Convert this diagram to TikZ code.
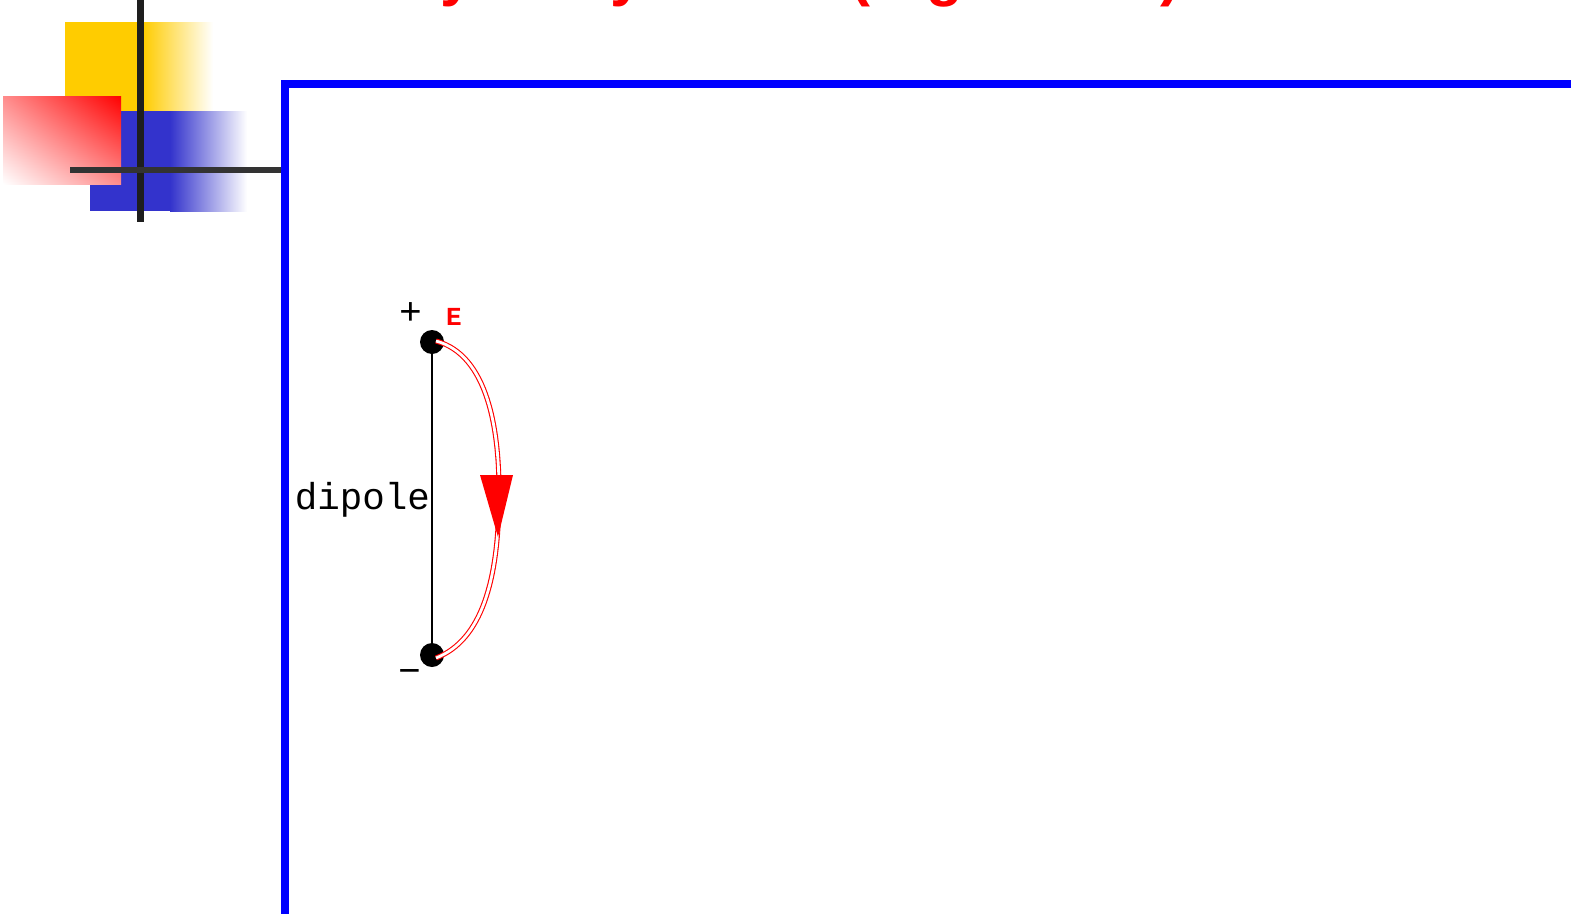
\documentclass[tikz,border=0pt]{standalone}
\usepackage{fontspec}
\usetikzlibrary{shadings}
\setmainfont{Liberation Sans}
\newfontfamily\monof{Liberation Mono}
\definecolor{decoyellow}{HTML}{FFCC00}
\definecolor{decoblue}{HTML}{3333CC}
\definecolor{framblue}{HTML}{0000FF}
\definecolor{barblack}{HTML}{1E1E1E}
\definecolor{bargray}{HTML}{333333}
\begin{document}
\begin{tikzpicture}[x=1pt,y=-1pt,
  frameline/.style={draw=framblue,line width=8pt},
  charge/.style={circle,fill=black,inner sep=0pt,minimum size=24pt},
  fieldline/.style={draw=red,double=white,line width=1.1pt,double distance=2.8pt},
  titlefrag/.style={text=red,font=\fontsize{60}{60}\selectfont\bfseries,inner sep=0pt,anchor=base west},
  lbl/.style={inner sep=0pt}]
\useasboundingbox (0,0) rectangle (1571,913);
\fill[white] (0,0) rectangle (1571,913);
% title fragments (cut off at top)
\node[titlefrag] (t1) at (440,-6) {y};
\node[titlefrag] (t2) at (610,-6) {y};
\node[titlefrag] (t3) at (850,-6) {(};
\node[titlefrag] (t4) at (926,-6) {g};
\node[titlefrag] (t5) at (1160,-6) {)};
% decorative squares
\fill[decoyellow] (65,22) rectangle (143,111);
\shade[left color=decoyellow,right color=white] (143,22) rectangle (213,111);
\fill[decoblue] (90,111) rectangle (170,211);
\shade[left color=decoblue,right color=white] (170,111) rectangle (247,211);
\shade[upper right=red,lower left=white,upper left=red!45!white,lower right=red!45!white] (3,96) rectangle (121,184);
\draw[barblack,line width=7pt] (140,0) -- (140,222);
\draw[bargray,line width=6pt] (70,169.5) -- (281,169.5);
% frame
\draw[frameline] (285,920) -- (285,84) -- (1580,84);
% dipole
\node[charge] (pos) at (432,342) {};
\node[charge] (neg) at (432,655) {};
\draw[black,line width=1.6pt] (pos.center) -- (neg.center);
\node[lbl,font=\fontsize{38}{38}\selectfont\monof] (plus) at (411,314) {+};
\node[lbl,font=\fontsize{26}{26}\selectfont\monof\bfseries,text=red] (elbl) at (454,317) {E};
\node[lbl,font=\fontsize{38}{38}\selectfont\monof] (minus) at (410,676) {−};
\node[lbl,font=\fontsize{37.5}{37.5}\selectfont\monof,anchor=east] (dip) at (430,500) {dipole};
\draw[fieldline] (pos.center) ++(4,-1) coordinate (fs) .. controls (488,355) and (500,430) .. (499,500)
  .. controls (498,580) and (482,640) .. ([shift={(4,3)}]neg.center);
\fill[red] (480,475) -- (513,475) -- (498,537) -- cycle;
\end{tikzpicture}
\end{document}
